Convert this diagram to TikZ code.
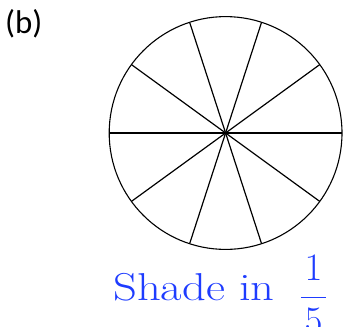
\RequirePackage{fix-cm}
\documentclass[tikz,border=0pt]{standalone}
\usepackage{amsmath}
\usepackage{fontspec}
\usepackage{xcolor}
\usepackage{tikz}
\usetikzlibrary{positioning,calc}
\newfontfamily\labelfont{Carlito}
\definecolor{shadeblue}{RGB}{30,60,255}

\begin{document}
\begin{tikzpicture}[
  x=1bp, y=-1bp,
  disc/.style={draw, circle, line width=1.1pt, inner sep=0pt, outer sep=0pt, minimum size=232.8bp},
  spoke/.style={line width=1.2pt},
  tag/.style={font=\labelfont\fontsize{33}{40}\selectfont, inner sep=0pt, anchor=base west},
  task/.style={font=\fontsize{39}{46}\selectfont, text=shadeblue, inner sep=0pt, anchor=base west}
]
\useasboundingbox (0,0) rectangle (344,327);
% ---------------- label
\node[tag] (lbl) at (5,33.3) {(b)};
% ---------------- circle in ten parts
\node[disc] (c) at (225.6,133) {};
\foreach \k in {0,...,9}
  \draw[spoke] (c.center) -- (c.{36*\k+0.8});
% ---------------- instruction
\node[task] (txt) at (113,300) {\scalebox{1.2}[1]{Shade in}\hspace{25bp}%
  \raisebox{-7bp}{$\dfrac{\kern.1em 1\kern.1em}{\kern.1em 5\kern.1em}$}};
\end{tikzpicture}
\end{document}
